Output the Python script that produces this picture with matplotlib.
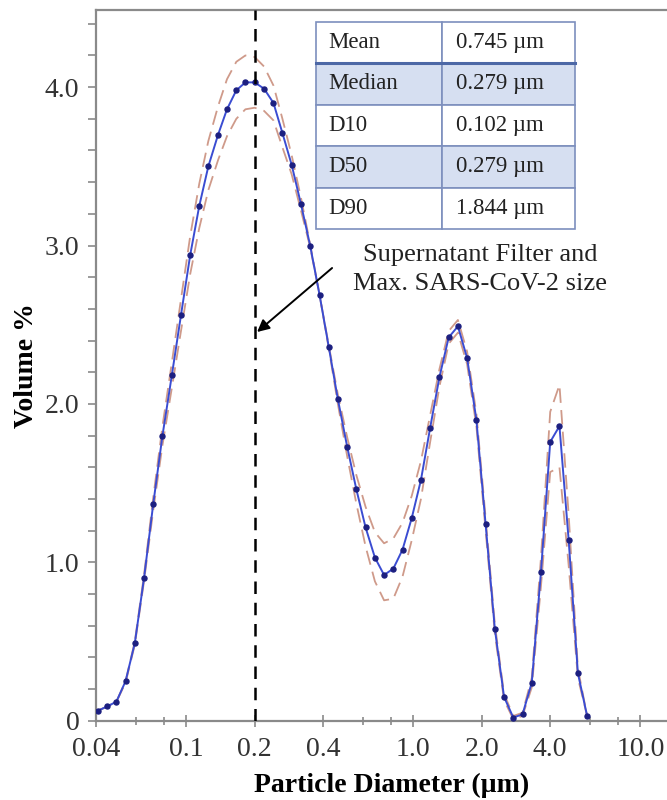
import matplotlib
matplotlib.use("Agg")
import matplotlib.pyplot as plt
from matplotlib.ticker import FixedLocator, NullFormatter, FixedFormatter, MultipleLocator
from matplotlib.lines import Line2D

# Particle size distribution (laser diffraction), volume % per size bin
diameter_um = [0.0408, 0.0448, 0.0492, 0.0540, 0.0593, 0.0651, 0.0715, 0.0785,
               0.0863, 0.0947, 0.104, 0.114, 0.125, 0.138, 0.151, 0.166,
               0.182, 0.200, 0.220, 0.242, 0.265, 0.291, 0.320, 0.351,
               0.386, 0.424, 0.465, 0.511, 0.561, 0.616, 0.677, 0.743,
               0.816, 0.896, 0.984, 1.080, 1.186, 1.303, 1.431, 1.571,
               1.725, 1.895, 2.081, 2.285, 2.509, 2.755, 3.026, 3.323,
               3.649, 4.007, 4.401, 4.832, 5.306, 5.827]

volume_mean = [0.063, 0.09, 0.12, 0.25, 0.49, 0.90, 1.37, 1.80, 2.18, 2.56,
               2.94, 3.25, 3.50, 3.70, 3.86, 3.98, 4.03, 4.03, 3.99, 3.90,
               3.71, 3.51, 3.26, 3.00, 2.69, 2.36, 2.03, 1.73, 1.46, 1.22,
               1.03, 0.92, 0.96, 1.08, 1.28, 1.52, 1.85, 2.17, 2.42, 2.49,
               2.29, 1.90, 1.24, 0.58, 0.15, 0.02, 0.04, 0.24, 0.94, 1.76,
               1.86, 1.14, 0.30, 0.03]

volume_upper = [0.063, 0.09, 0.12, 0.25, 0.50, 0.92, 1.41, 1.86, 2.26, 2.66,
                3.06, 3.39, 3.66, 3.88, 4.05, 4.16, 4.20, 4.19, 4.13, 4.01,
                3.80, 3.57, 3.30, 3.01, 2.69, 2.37, 2.06, 1.79, 1.55, 1.35,
                1.19, 1.12, 1.15, 1.25, 1.42, 1.64, 1.93, 2.22, 2.46, 2.53,
                2.33, 1.94, 1.28, 0.61, 0.17, 0.03, 0.05, 0.27, 1.03, 1.95,
                2.12, 1.30, 0.33, 0.03]

volume_lower = [0.063, 0.09, 0.12, 0.24, 0.48, 0.88, 1.33, 1.74, 2.10, 2.46,
                2.82, 3.11, 3.35, 3.54, 3.69, 3.80, 3.86, 3.87, 3.85, 3.79,
                3.62, 3.45, 3.22, 2.99, 2.69, 2.35, 2.00, 1.67, 1.37, 1.10,
                0.88, 0.76, 0.77, 0.91, 1.14, 1.40, 1.76, 2.11, 2.38, 2.45,
                2.25, 1.86, 1.20, 0.55, 0.13, 0.01, 0.03, 0.21, 0.85, 1.57,
                1.60, 0.98, 0.27, 0.03]

filter_size_um = 0.2

stat_names = ["Mean", "Median", "D10", "D50", "D90"]
stat_values = ["0.745 µm", "0.279 µm", "0.102 µm", "0.279 µm", "1.844 µm"]

x_tick_values = [0.04, 0.1, 0.2, 0.4, 1.0, 2.0, 4.0, 10.0]
x_tick_labels = ["0.04", "0.1", "0.2", "0.4", "1.0", "2.0", "4.0", "10.0"]
x_minor_ticks = [0.06, 0.08, 0.6, 0.8, 6.0, 8.0]
y_tick_values = [0, 1, 2, 3, 4]
y_tick_labels = ["0", "1.0", "2.0", "3.0", "4.0"]

plt.rcParams['font.family'] = ['Liberation Serif', 'DejaVu Serif']

fig = plt.figure(figsize=(6.67, 8.0), dpi=100)
ax = fig.add_axes([96 / 667, 79.3 / 800, 571 / 667, 710.7 / 800])

# spread of repeated measurements
band_color = '#cf9a8a'
ax.plot(diameter_um, volume_upper, color=band_color, lw=1.3,
        dashes=(8, 4), zorder=2)
ax.plot(diameter_um, volume_lower, color=band_color, lw=1.3,
        dashes=(8, 4), zorder=2)
# average distribution
ax.plot(diameter_um, volume_mean, color='#3a4cd2', lw=1.4, marker='o',
        markersize=3.6, markerfacecolor='#1c1f80', markeredgecolor='#1c1f80',
        zorder=3)

# filter cut-off / max virus size
ax.axvline(filter_size_um, color='black', lw=1.8, dashes=(5, 3.5), zorder=4)

ax.set_xscale('log')
ax.set_xlim(0.04, 13.1)
ax.set_ylim(0, 4.487)

ax.xaxis.set_major_locator(FixedLocator(x_tick_values))
ax.xaxis.set_major_formatter(FixedFormatter(x_tick_labels))
ax.xaxis.set_minor_locator(FixedLocator(x_minor_ticks))
ax.xaxis.set_minor_formatter(NullFormatter())
ax.yaxis.set_major_locator(FixedLocator(y_tick_values))
ax.yaxis.set_major_formatter(FixedFormatter(y_tick_labels))
ax.yaxis.set_minor_locator(MultipleLocator(0.2))

spine_color = '#8a8a8a'
for side in ['left', 'bottom', 'top']:
    ax.spines[side].set_color(spine_color)
    ax.spines[side].set_linewidth(1.6)
ax.spines['right'].set_visible(False)

ax.tick_params(axis='x', which='major', direction='inout', length=9, width=1.2,
               color=spine_color, labelsize=20, labelcolor='#333333', pad=7)
ax.tick_params(axis='x', which='minor', direction='inout', length=6, width=1.2,
               color=spine_color)
ax.tick_params(axis='y', which='both', direction='out', length=6, width=1.2,
               color=spine_color, labelsize=20, labelcolor='#333333', pad=6)

ax.set_xlabel('Particle Diameter (µm)', fontsize=20, fontweight='bold',
              labelpad=8)
ax.xaxis.label.set_x(0.517)
ax.set_ylabel('Volume %', fontsize=20, fontweight='bold', labelpad=4)

# summary statistics table
table = ax.table(cellText=[[n, v] for n, v in zip(stat_names, stat_values)],
                 cellLoc='left', colWidths=[0.489, 0.511],
                 bbox=[0.385, 0.6919, 0.4536, 0.2917], zorder=5)
table.auto_set_font_size(False)
table.set_fontsize(16.5)
for (r, c), cell in table.get_celld().items():
    cell.set_edgecolor('#7d8fbd')
    cell.set_linewidth(1.2)
    cell.set_facecolor('#d6dff1' if r in (1, 3) else 'white')
    cell.get_text().set_color('#222222')
ax.add_line(Line2D([0.385, 0.385 + 0.4536], [0.6919 + 0.2917 * 0.8] * 2,
                   transform=ax.transAxes, color='#4d68a6', lw=2.2, zorder=6))

# annotation for the filter line
ax.annotate('', xy=(0.205, 2.454), xytext=(0.4385, 2.858),
            arrowprops=dict(arrowstyle='-|>', color='black', lw=1.4,
                            mutation_scale=18, shrinkA=0, shrinkB=0),
            zorder=6)
ax.text(1.97, 2.85, 'Supernatant Filter and\nMax. SARS-CoV-2 size',
        ha='center', va='center', fontsize=19, color='#222222',
        linespacing=1.38, zorder=6)

fig.savefig('out.png', dpi=100)
